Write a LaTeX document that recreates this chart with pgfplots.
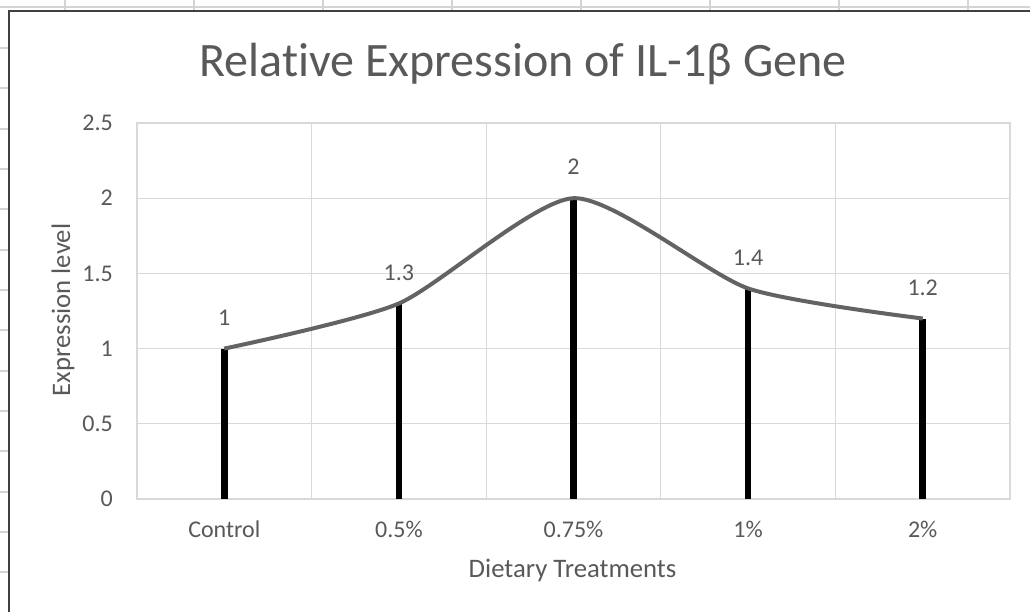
\documentclass[border=0pt]{standalone}
\usepackage{pgfplots}
\pgfplotsset{compat=1.18}
\usepackage{fontspec}
\setmainfont{Carlito}[Ligatures=NoCommon]
\definecolor{txt}{HTML}{595959}
\definecolor{gridc}{HTML}{D9D9D9}
\definecolor{cellc}{HTML}{D4D4D4}
\definecolor{framec}{HTML}{404040}
\definecolor{curvec}{HTML}{636363}
\begin{document}
\begin{tikzpicture}[x=1pt,y=1pt]
\fill[white] (0,0) rectangle (1030,612);
\useasboundingbox (0,0) rectangle (1030,612);
\draw[cellc, line width=1.5] (0,605) -- (1030,605);
\foreach \cx in {65,194,323,452,581,710,839,968} \draw[cellc, line width=1.5] (\cx,601) -- (\cx,612);
\foreach \ry in {48,88,129,169,209,250,290,330,371,411,451,492,532,572} \draw[cellc,line width=1.5] (0,612-\ry) -- (9,612-\ry);
\draw[framec, line width=2] (9,0) -- (9,601) -- (1030,601);
\begin{axis}[
 at={(137pt,113pt)}, anchor=south west,
 scale only axis, width=873pt, height=376pt,
 xmin=-0.5, xmax=4.5, ymin=0, ymax=2.5,
 xtick={0,1,2,3,4}, xticklabels={Control,0.5\%,0.75\%,1\%,2\%},
 minor xtick={-0.5,0.5,1.5,2.5,3.5,4.5},
 xminorgrids, ymajorgrids,
 ytick={0,0.5,1,1.5,2,2.5},
 major tick length=0pt, minor tick length=0pt,
 grid style={gridc, line width=1.3pt},
 minor grid style={gridc, line width=1.3pt},
 axis line style={gridc, line width=1.3pt},
 tick label style={font=\fontsize{24}{28}\selectfont, text=txt},
 xticklabel style={anchor=base, yshift=-39pt, inner sep=0pt},
 yticklabel style={anchor=east, xshift=-24pt, inner sep=0pt},
 /pgf/number format/assume math mode=true,
 clip=false,
]
\addplot[black, line width=6.5pt, ycomb, forget plot] coordinates {(0,1) (1,1.3) (2,2) (3,1.4) (4,1.2)};
\addplot[curvec, line width=4pt, smooth, tension=0.4, nodes near coords, point meta=explicit symbolic,
  nodes near coords style={anchor=center, yshift=31pt, font=\fontsize{24}{28}\selectfont, text=txt}]
  coordinates {(0,1)[1] (1,1.3)[1.3] (2,2)[2] (3,1.4)[1.4] (4,1.2)[1.2]};
\end{axis}
\node[anchor=base, text=txt, font=\fontsize{48}{56}\selectfont, inner sep=0pt] at (523,535) {Relative Expression of IL-1β Gene};
\node[anchor=base, text=txt, font=\fontsize{26.7}{30}\selectfont, inner sep=0pt] at (572.5,34) {Dietary Treatments};
\node[anchor=base, rotate=90, text=txt, font=\fontsize{26.7}{30}\selectfont, inner sep=0pt] at (70,302) {Expression level};
\end{tikzpicture}
\end{document}
